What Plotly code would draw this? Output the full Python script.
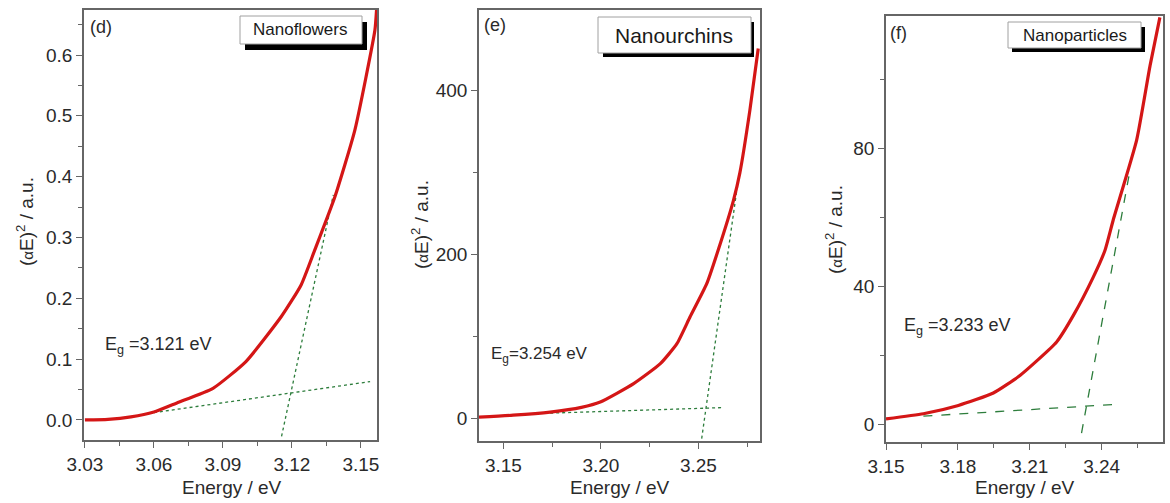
import plotly.graph_objects as go

W, H = 1170, 503

# ---------------- data ----------------
# (d) Nanoflowers
energy_d = [3.030, 3.040, 3.050, 3.060, 3.070, 3.0857, 3.100, 3.1154, 3.124, 3.130, 3.1387, 3.1474, 3.1561, 3.1568]
alphaE2_d = [0.0, 0.001, 0.005, 0.013, 0.028, 0.052, 0.096, 0.170, 0.222, 0.280, 0.367, 0.477, 0.641, 0.674]
base_d_x = [3.060, 3.154]
base_d_y = [0.012, 0.063]
steep_d_x = [3.1155, 3.138]
steep_d_y = [-0.027, 0.370]

# (e) Nanourchins
energy_e = [3.1375, 3.155, 3.174, 3.190, 3.1997, 3.2168, 3.2305, 3.239, 3.2457, 3.2543, 3.2603, 3.268, 3.2713, 3.2764, 3.2807]
alphaE2_e = [1.2, 3.5, 7.3, 13.0, 19.5, 42.0, 66.4, 90.8, 123.3, 164.0, 206.0, 265.7, 299.5, 375.5, 451.0]
base_e_x = [3.174, 3.2618]
base_e_y = [6.0, 12.7]
steep_e_x = [3.2517, 3.2697]
steep_e_y = [-25.0, 278.0]

# (f) Nanoparticles
energy_f = [3.150, 3.1656, 3.1802, 3.1948, 3.2059, 3.2212, 3.2282, 3.2365, 3.2414, 3.2448, 3.2546, 3.2602, 3.2643]
alphaE2_f = [1.6, 3.1, 5.5, 9.1, 14.2, 23.9, 31.6, 42.7, 50.5, 59.2, 82.4, 104.0, 118.0]
base_f_x = [3.1656, 3.2455]
base_f_y = [2.4, 5.8]
steep_f_x = [3.2316, 3.2518]
steep_f_y = [-2.5, 73.6]

x_ticks_d = [3.03, 3.06, 3.09, 3.12, 3.15]
y_ticks_d = [0.0, 0.1, 0.2, 0.3, 0.4, 0.5, 0.6]
x_ticks_e = [3.15, 3.20, 3.25]
y_ticks_e = [0, 200, 400]
x_ticks_f = [3.15, 3.18, 3.21, 3.24]
y_ticks_f = [0, 40, 80]

labels = ["Nanoflowers", "Nanourchins", "Nanoparticles"]
panel_tags = ["(d)", "(e)", "(f)"]
gap_texts = ["E<sub>g</sub> =3.121 eV", "E<sub>g</sub>=3.254 eV", "E<sub>g</sub> =3.233 eV"]

# ---------------- helpers ----------------
def px(x):
    return x / W

def py(y):
    return 1 - y / H

FONT = "Arial, 'Liberation Sans', sans-serif"
RED = "rgb(212,22,22)"
GREEN = "rgb(45,125,60)"
AX = "#666666"
TXT = "#2a2a2a"

fig = go.Figure()

panels = [
    dict(ex=energy_d, ey=alphaE2_d, bx=base_d_x, by=base_d_y, sx=steep_d_x, sy=steep_d_y,
         dash="dot", xdom=(84, 377), ydom=(10, 440), xr=[3.0296, 3.157], yr=[-0.033, 0.674],
         xt=x_ticks_d, yt=y_ticks_d, xfmt=".2f", yfmt=".1f", xminor=0.015, yminor=0.05),
    dict(ex=energy_e, ey=alphaE2_e, bx=base_e_x, by=base_e_y, sx=steep_e_x, sy=steep_e_y,
         dash="dot", xdom=(479, 760), ydom=(10, 441), xr=[3.1375, 3.2816], yr=[-28, 498],
         xt=x_ticks_e, yt=y_ticks_e, xfmt=".2f", yfmt="d", xminor=0.025, yminor=100),
    dict(ex=energy_f, ey=alphaE2_f, bx=base_f_x, by=base_f_y, sx=steep_f_x, sy=steep_f_y,
         dash="dash", xdom=(886, 1163), ydom=(16, 442), xr=[3.15, 3.2656], yr=[-5.1, 118.4],
         xt=x_ticks_f, yt=y_ticks_f, xfmt=".2f", yfmt="d", xminor=0.015, yminor=20),
]

layout_axes = {}
for i, p in enumerate(panels):
    n = "" if i == 0 else str(i + 1)
    xa, ya = "x" + n, "y" + n
    for bx_, by_ in [(p["bx"], p["by"]), (p["sx"], p["sy"])]:
        fig.add_trace(go.Scatter(x=bx_, y=by_, mode="lines", xaxis=xa, yaxis=ya,
                                 line=dict(color=GREEN, width=1.3, dash=p["dash"]),
                                 showlegend=False, hoverinfo="skip"))
    fig.add_trace(go.Scatter(x=p["ex"], y=p["ey"], mode="lines", xaxis=xa, yaxis=ya,
                             line=dict(color=RED, width=3.2, shape="spline", smoothing=0.5),
                             showlegend=False))
    common = dict(showline=True, linecolor=AX, linewidth=1.5, mirror=True,
                  ticks="outside", tickcolor=AX, tickwidth=1.2, ticklen=6,
                  showgrid=False, zeroline=False, automargin=False,
                  tickfont=dict(family=FONT, size=19, color=TXT))
    layout_axes["xaxis" + n] = dict(
        common, domain=[px(p["xdom"][0]), px(p["xdom"][1])], range=p["xr"],
        anchor=ya, tickmode="array", tickvals=p["xt"],
        ticktext=[format(v, p["xfmt"]) for v in p["xt"]],
        minor=dict(dtick=p["xminor"], ticklen=4, tickcolor=AX, tickwidth=1.2, ticks="outside", tick0=p["xt"][0]))
    layout_axes["yaxis" + n] = dict(
        common, domain=[py(p["ydom"][1]), py(p["ydom"][0])], range=p["yr"],
        anchor=xa, tickmode="array", tickvals=p["yt"],
        ticktext=[format(v, p["yfmt"]) for v in p["yt"]],
        minor=dict(dtick=p["yminor"], ticklen=4, tickcolor=AX, tickwidth=1.2, ticks="outside", tick0=0))

annotations = []
shapes = []

# x axis titles
for cx in [232, 620, 1025]:
    annotations.append(dict(x=px(cx), y=py(487), xref="paper", yref="paper", text="Energy / eV",
                            showarrow=False, font=dict(family=FONT, size=19, color=TXT),
                            xanchor="center", yanchor="middle"))
# y axis titles
ytitle = "(<span style='font-size:15px'>α</span>E)<sup>2</sup> / a.u."
for cx, cy in [(25, 222), (420, 225), (834, 230)]:
    annotations.append(dict(x=px(cx), y=py(cy), xref="paper", yref="paper", text=ytitle,
                            textangle=-90, showarrow=False,
                            font=dict(family=FONT, size=19, color=TXT),
                            xanchor="center", yanchor="middle"))
# panel tags
for (lx, cy), t in zip([(88, 27), (482, 25), (888, 33)], panel_tags):
    annotations.append(dict(x=px(lx), y=py(cy), xref="paper", yref="paper", text=t,
                            showarrow=False, font=dict(family=FONT, size=18, color=TXT),
                            xanchor="left", yanchor="middle"))
# band gap labels
for (lx, cy, fs), t in zip([(103, 345, 18), (489, 355, 17), (902, 326, 18)], gap_texts):
    annotations.append(dict(x=px(lx), y=py(cy), xref="paper", yref="paper", text=t,
                            showarrow=False, font=dict(family=FONT, size=fs, color=TXT),
                            xanchor="left", yanchor="middle"))

# sample label boxes with drop shadow
boxes = [
    dict(w=(240, 16, 362, 44), s=(245, 22, 367, 50), fs=17),
    dict(w=(598, 17, 751, 53), s=(603, 22, 754, 57), fs=21),
    dict(w=(1008, 22, 1141, 48), s=(1012, 27, 1145, 52), fs=17),
]
for b, lab in zip(boxes, labels):
    x0, y0, x1, y1 = b["s"]
    shapes.append(dict(type="rect", xref="paper", yref="paper", x0=px(x0), x1=px(x1), y0=py(y1), y1=py(y0),
                       fillcolor="black", line=dict(width=0), layer="above"))
    x0, y0, x1, y1 = b["w"]
    shapes.append(dict(type="rect", xref="paper", yref="paper", x0=px(x0), x1=px(x1), y0=py(y1), y1=py(y0),
                       fillcolor="white", line=dict(color="#a0a0a0", width=1), layer="above"))
    annotations.append(dict(x=px((x0 + x1) / 2), y=py((y0 + y1) / 2), xref="paper", yref="paper",
                            text=lab, showarrow=False, font=dict(family=FONT, size=b["fs"], color="#1a1a1a"),
                            xanchor="center", yanchor="middle"))

fig.update_layout(
    width=W, height=H, margin=dict(l=0, r=0, t=0, b=0, autoexpand=False),
    paper_bgcolor="white", plot_bgcolor="white",
    showlegend=False, annotations=annotations, shapes=shapes,
    **layout_axes,
)

fig.write_html("out.html", config={"displayModeBar": False},
               post_script="document.body.style.margin='0';")
